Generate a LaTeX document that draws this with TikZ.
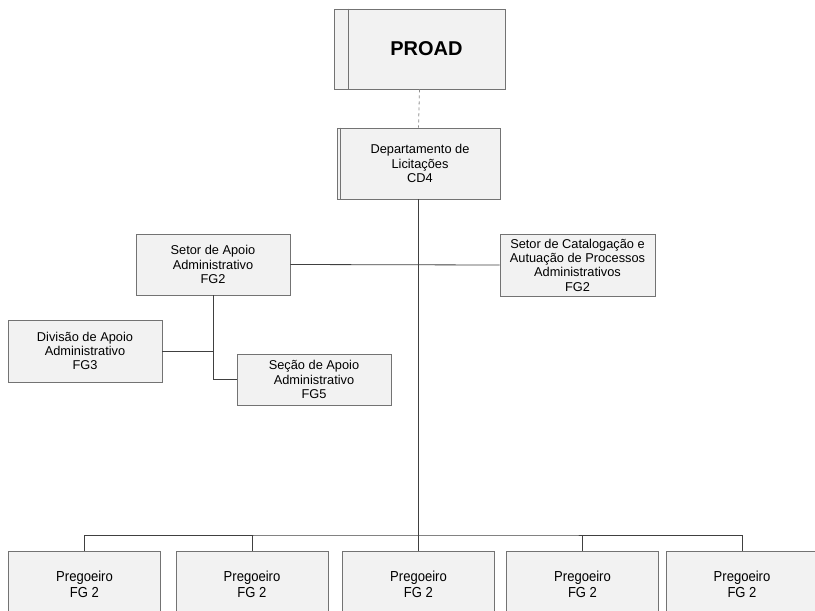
\documentclass[tikz,border=0pt]{standalone}
\usepackage{fontspec}
\setmainfont{Liberation Sans}
\newfontfamily\narrowfont[FakeStretch=0.9]{Liberation Sans}
\begin{document}
\begin{tikzpicture}[x=1pt,y=-1pt,
  box/.style={draw=black!55,fill=black!5,line width=0.9pt,align=center,inner sep=2pt,
    font=\fontsize{12.8}{14.3}\selectfont},
  conn/.style={draw=black!75,line width=0.8pt},
  preg/.style={box,minimum width=152pt,minimum height=67pt,
    font=\narrowfont\fontsize{14.5}{16}\selectfont}]
\clip (0,0) rectangle (815,611);
\fill[white] (0,0) rectangle (815,611);
% nodes
\node[box,minimum width=171pt,minimum height=80pt,font=\fontsize{20}{22}\bfseries] (proad) at (419.5,49) {\hspace*{14pt}PROAD};
\node[box,minimum width=163pt,minimum height=71pt] (dept) at (418.5,163.5) {\hspace*{3pt}Departamento de\\\hspace*{3pt}Licitações\\\hspace*{3pt}CD4};
\node[box,minimum width=154pt,minimum height=61pt] (setor) at (213,264.5) {Setor de Apoio\\Administrativo\\FG2};
\node[box,minimum width=155pt,minimum height=62pt] (catal) at (577.5,265) {Setor de Catalogação e\\Autuação de Processos\\Administrativos\\FG2};
\node[box,minimum width=154pt,minimum height=62pt] (divisao) at (85,351) {Divisão de Apoio\\Administrativo\\FG3};
\node[box,minimum width=154pt,minimum height=51pt] (secao) at (314,379.5) {Seção de Apoio\\Administrativo\\FG5};
\node[preg] (p1) at (84.5,584.5) {Pregoeiro\\FG 2};
\node[preg] (p2) at (252,584.5) {Pregoeiro\\FG 2};
\node[preg] (p3) at (418.5,584.5) {Pregoeiro\\FG 2};
\node[preg] (p4) at (582.5,584.5) {Pregoeiro\\FG 2};
\node[preg] (p5) at (742,584.5) {Pregoeiro\\FG 2};
% inner lines
\draw[black!55,line width=0.9pt] (proad.north west) ++(15,0) -- ++(0,80);
\draw[black!55,line width=0.9pt] (dept.north west) ++(4,0) -- ++(0,71);
% connectors
\draw[conn,dashed,draw=black!45] (proad.south) -- (dept.north);
\draw[conn] (dept.south) -- (p3.north);
\coordinate (bus) at (418.5,535);
\draw[conn] (p1.north) |- (bus) -| (p5.north);
\draw[conn] (p2.north) -- (p2.north |- bus);
\draw[conn] (p4.north) -- (p4.north |- bus);
\draw[conn] (setor.east) -- (catal.west);
\draw[conn] (setor.south) |- (secao.west);
\draw[conn] (divisao.east) -- (divisao.east -| setor.south);
\end{tikzpicture}
\end{document}
